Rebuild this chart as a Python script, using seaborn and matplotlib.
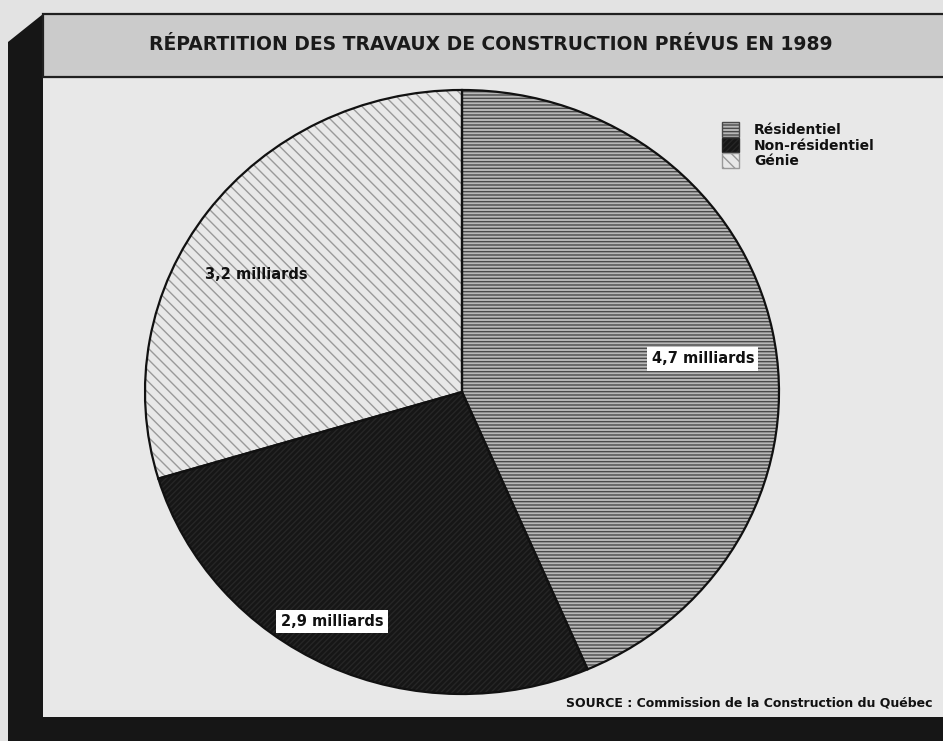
import matplotlib
matplotlib.use("Agg")
import matplotlib.pyplot as plt
import seaborn as sns
from matplotlib.patches import Polygon, Rectangle, Patch

# données
categories = ["Résidentiel", "Non-résidentiel", "Génie"]
valeurs = [4.7, 2.9, 3.2]  # milliards de dollars
titre = "RÉPARTITION DES TRAVAUX DE CONSTRUCTION PRÉVUS EN 1989"
source = "SOURCE : Commission de la Construction du Québec"

# style des secteurs
couleurs = ["#b8b8b8", "#161616", "#e8e8e8"]
hachures = ["-----", "//////", "\\\\\\"]
couleurs_hachures = ["#4a4a4a", "#262626", "#999999"]
pos_etiquettes = [(0.76, 0.11), (-0.41, -0.76), (-0.65, 0.39)]
boite_etiquettes = [True, True, False]

sns.set_style("white")
plt.rcParams["font.family"] = ["DejaVu Sans"]
plt.rcParams["hatch.linewidth"] = 1.0

W, H = 943, 741
fig = plt.figure(figsize=(W / 100, H / 100), dpi=100, facecolor="#e3e3e3")


def fx(px):
    return px / W


def fy(py):
    return 1 - py / H


deco = dict(transform=fig.transFigure, zorder=-5)
# cadre : bande noire à gauche et en bas
fig.add_artist(Polygon([(fx(8), fy(42)), (fx(43), fy(14)), (fx(43), fy(741)),
                        (fx(8), fy(741))], closed=True,
                       facecolor="#161616", edgecolor="none", **deco))
fig.add_artist(Rectangle((fx(8), 0), 1, fy(717),
                         facecolor="#161616", edgecolor="none", **deco))
# bandeau du titre
fig.add_artist(Rectangle((fx(43), fy(77)), 1, fy(14) - fy(77),
                         facecolor="#cbcbcb", edgecolor="#202020", linewidth=1.6, **deco))
# panneau principal
fig.add_artist(Rectangle((fx(43), fy(717)), 1, fy(79) - fy(717),
                         facecolor="#e8e8e8", edgecolor="none", **deco))

fig.text(fx(491), fy(44), titre, ha="center", va="center", fontsize=13.5,
         fontweight="heavy", color="#1a1a1a")

# camembert
cx, cy, rx, ry = 462, 392, 317, 302
ax = fig.add_axes([fx(cx - rx), fy(cy + ry), 2 * rx / W, 2 * ry / H])
ax.set_zorder(2)
ax.patch.set_visible(False)
wedges, _ = ax.pie(valeurs, startangle=90, counterclock=False, radius=1,
                   wedgeprops=dict(linewidth=0))
for w, c, h, hc in zip(wedges, couleurs, hachures, couleurs_hachures):
    w.set_facecolor(c)
    w.set_hatch(h)
    w.set_edgecolor(hc)
# contours noirs
ax.pie(valeurs, startangle=90, counterclock=False, radius=1,
       wedgeprops=dict(facecolor="none", edgecolor="#111111", linewidth=1.6))
ax.set_aspect("auto")
ax.set_xlim(-1, 1)
ax.set_ylim(-1, 1)
ax.axis("off")

for v, (x, y), boite in zip(valeurs, pos_etiquettes, boite_etiquettes):
    txt = f"{v:.1f}".replace(".", ",") + " milliards"
    bbox = dict(facecolor="white", edgecolor="none", pad=3) if boite else None
    ax.text(x, y, txt, ha="center", va="center", fontsize=10.5,
            fontweight="heavy", color="#111111", bbox=bbox)

# légende
poignees = [Patch(facecolor=c, hatch=h, edgecolor=hc)
            for c, h, hc in zip(couleurs, hachures, couleurs_hachures)]
leg = fig.legend(poignees, categories, loc="upper left",
                 bbox_to_anchor=(fx(715), fy(115)), frameon=False,
                 fontsize=10, borderpad=0, labelspacing=0.05,
                 handlelength=1.2, handleheight=1.25, handletextpad=1.1)
for t in leg.get_texts():
    t.set_fontweight("heavy")
    t.set_color("#111111")

fig.text(fx(566), fy(703), source, ha="left", va="center", fontsize=9,
         fontweight="heavy", color="#111111")

fig.savefig("out.png", dpi=100, facecolor=fig.get_facecolor())
